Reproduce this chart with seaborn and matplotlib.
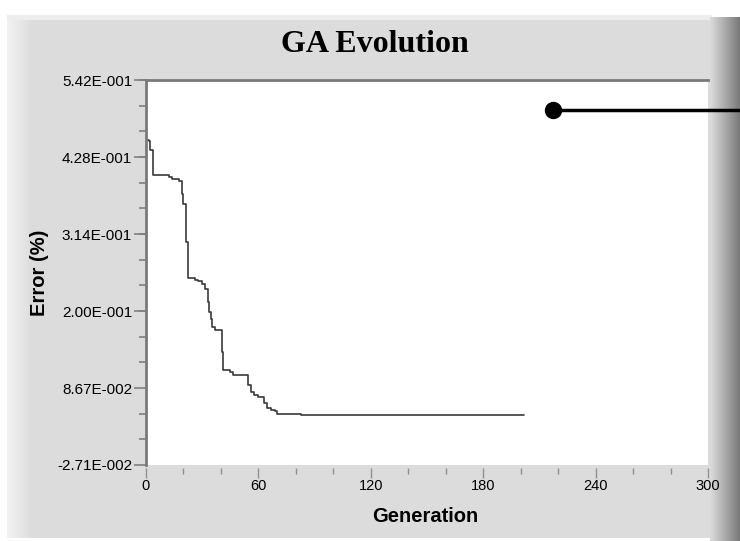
#!/usr/bin/env python3
"""
GA Evolution - best error per generation (step plot)
Usage: python plot.py
"""

import matplotlib
matplotlib.use("Agg")
import matplotlib.pyplot as plt
from matplotlib.lines import Line2D
from matplotlib.ticker import FixedLocator, MultipleLocator, AutoMinorLocator
import seaborn as sns
import pandas as pd
import numpy as np

# Data (generation where each new best error starts)
generation = [0, 1.8, 2.2, 3.6, 12.5, 13.7, 17.8, 19, 20, 21.5, 22.6, 26, 28,
              30, 31.5, 33.2, 33.6, 34.6, 35.4, 36.8, 40.4, 41.3, 44.8, 46.6,
              54.6, 56.2, 57.8, 59.6, 63.2, 64.4, 66.7, 68.9, 69.8, 82.7, 202]
error = [0.454, 0.452, 0.439, 0.402, 0.398, 0.395, 0.392, 0.373, 0.358, 0.302,
         0.249, 0.246, 0.245, 0.241, 0.233, 0.214, 0.199, 0.189, 0.177, 0.172,
         0.140, 0.113, 0.110, 0.106, 0.091, 0.081, 0.076, 0.074, 0.064, 0.057,
         0.054, 0.052, 0.049, 0.047, 0.047]

y_ticks = [-0.0271, 0.0867, 0.200, 0.314, 0.428, 0.542]
y_tick_labels = ['-2.71E-002', '8.67E-002', '2.00E-001', '3.14E-001',
                 '4.28E-001', '5.42E-001']
x_ticks = [0, 60, 120, 180, 240, 300]

sns.set_style("white")
plt.rcParams['font.family'] = ['Liberation Sans', 'DejaVu Sans']
plt.rcParams['text.color'] = 'black'
plt.rcParams['axes.labelcolor'] = 'black'

W, H = 740, 541
fig = plt.figure(figsize=(W / 100, H / 100), dpi=100, facecolor='white')

# panel background (LabVIEW-like grey frame)
bg = np.ones((H, W, 3))
bg[15:538, 7:712] = 0.863
bg[15:538, 7:33] = np.linspace(0.95, 0.863, 26)[None, :, None]
bg[15:20, 7:712] = 0.93
bg[17:541, 710:740] = np.linspace(0.86, 0.48, 30)[None, :, None]
bg_ax = fig.add_axes([0, 0, 1, 1], zorder=-1)
bg_ax.imshow(bg, aspect='auto', interpolation='bilinear')
bg_ax.axis('off')

ax = fig.add_axes([146 / W, 1 - 465 / H, 562 / W, 385 / H])
ax.set_facecolor('white')

df = pd.DataFrame({'Generation': generation, 'Error': error})
sns.lineplot(data=df, x='Generation', y='Error', drawstyle='steps-post',
             color='#3a3a3a', linewidth=1.2, ax=ax)

ax.set_xlim(0, 300)
ax.set_ylim(-0.0271, 0.542)

ax.yaxis.set_major_locator(FixedLocator(y_ticks))
ax.set_yticklabels(y_tick_labels)
ax.yaxis.set_minor_locator(AutoMinorLocator(3))
ax.xaxis.set_major_locator(FixedLocator(x_ticks))
ax.xaxis.set_minor_locator(MultipleLocator(20))

ax.tick_params(axis='y', which='major', left=True, length=9, width=1.2,
               color='#808080', pad=1, labelsize=11, labelcolor='black')
ax.tick_params(axis='y', which='minor', left=True, length=5, width=1.2,
               color='#808080')
ax.tick_params(axis='x', which='major', bottom=True, length=7, width=1,
               color='#909090', pad=1, labelsize=10.5, labelcolor='black')
ax.tick_params(axis='x', which='minor', bottom=True, length=4, width=1,
               color='#909090')

for side in ['left', 'top']:
    ax.spines[side].set_color('#7a7a7a')
    ax.spines[side].set_linewidth(2)
ax.spines['right'].set_visible(False)
ax.spines['bottom'].set_position(('outward', 2))
ax.spines['bottom'].set_color('none')

ax.set_xlabel('Generation', fontsize=14.5, fontweight='bold')
ax.set_ylabel('Error (%)', fontsize=14.5, fontweight='bold')
ax.xaxis.set_label_coords(0.496, -0.135)
ax.xaxis.label.set_va('center')
ax.yaxis.set_label_coords(-0.189, 0.5)
ax.yaxis.label.set_va('center')

fig.text(375 / W, 1 - 45 / H, 'GA Evolution', ha='center', va='center',
         fontsize=23, fontweight='bold', family='Liberation Serif',
         color='black')

# callout pointer
py = 1 - 110 / H
fig.add_artist(Line2D([553 / W, 1], [py, py], transform=fig.transFigure,
                      color='black', linewidth=2.5))
fig.add_artist(Line2D([553 / W], [py], transform=fig.transFigure,
                      marker='o', markersize=11.5, color='black'))

fig.savefig('out.png', dpi=100)
print("Saved: out.png")
